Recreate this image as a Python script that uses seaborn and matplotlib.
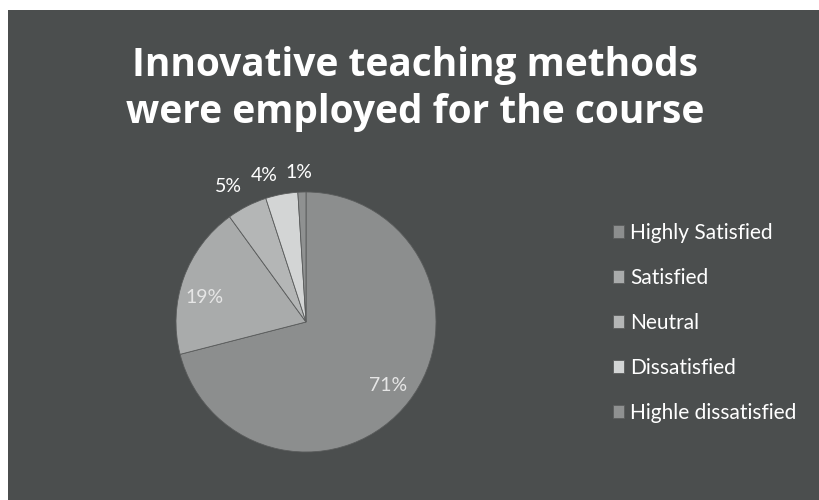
import matplotlib
matplotlib.use("Agg")
import matplotlib.pyplot as plt
from matplotlib.patches import Rectangle
import numpy as np
import seaborn as sns

categories = ["Highly Satisfied", "Satisfied", "Neutral", "Dissatisfied", "Highle dissatisfied"]
shares = [71, 19, 5, 4, 1]
title = "Innovative teaching methods\nwere employed for the course"

colors = ["#8c8e8e", "#a9abab", "#b4b6b6", "#d3d5d5", "#8f9191"]
# label placement: radius and angular nudge (degrees) per slice
label_dist = [0.8, 0.8, 1.2, 1.17, 1.15]
label_nudge = [0, 6, 3, 5, 1]

sns.set_theme(style="white")
plt.rcParams["font.family"] = ["Lato", "DejaVu Sans"]

fig = plt.figure(figsize=(8.2, 5), dpi=100)
fig.patch.set_facecolor("white")
fig.patches.append(Rectangle((8 / 820, 0), 1, 1 - 10 / 500, transform=fig.transFigure,
                             facecolor="#4b4e4e", edgecolor="none", zorder=-1))

fig.text(0.506, 0.822, title, ha="center", va="center", color="white",
         fontsize=28, fontweight="bold", family=["Open Sans", "DejaVu Sans"],
         linespacing=1.25)

# pie axes: centre ~ (306, 322) px, radius ~130 px
ax = fig.add_axes([176 / 820, (500 - 452) / 500, 260 / 820, 260 / 500])
wedges, _ = ax.pie(shares, colors=colors, startangle=90, counterclock=False,
                   wedgeprops=dict(edgecolor="#5a5c5c", linewidth=0.6))
ax.set_xlim(-1, 1)
ax.set_ylim(-1, 1)
ax.set_aspect("equal")
ax.axis("off")

for w, v, d, n in zip(wedges, shares, label_dist, label_nudge):
    ang = np.deg2rad((w.theta1 + w.theta2) / 2 + n)
    c = "#e6e6e6" if d < 1 else "white"
    ax.text(d * np.cos(ang), d * np.sin(ang), f"{v}%", ha="center", va="center",
            color=c, fontsize=14)

leg = fig.legend(wedges, categories, loc="upper left", bbox_to_anchor=(594 / 820, 1 - 204 / 500),
                 frameon=False, fontsize=15, labelcolor="white", handlelength=0.55,
                 handleheight=0.55, handletextpad=0.3, labelspacing=1.2)

fig.savefig("out.png", dpi=100, facecolor=fig.get_facecolor())
